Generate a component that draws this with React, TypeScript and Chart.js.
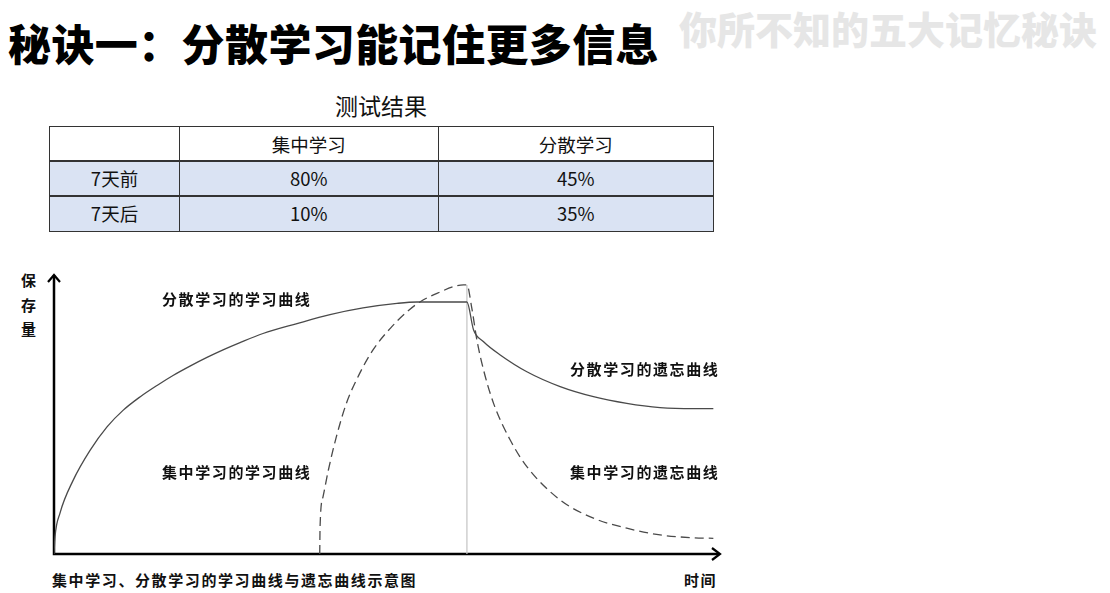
import React, { useEffect, useRef } from "react";
import { Chart, registerables } from "chart.js";

Chart.register(...registerables);

// ---- data ----
const tableHeaders = ["", "集中学习", "分散学习"];
const rowLabels = ["7天前", "7天后"];
const massedValues = ["80%", "10%"];
const spacedValues = ["45%", "35%"];

// 分散学习 (solid): learning curve then forgetting curve
const spacedX = [0, 0.15, 0.9, 2.85, 5.41, 7.96, 10.36, 12.91, 15.47, 17.87, 20.42, 22.97, 25.38, 27.93, 31.38, 36.49, 41.44, 46.4, 51.5, 54.5, 62.0, 63.0, 64.5, 67.0, 71.0, 76.0, 81.0, 86.0, 91.0, 96.0, 99.0];
const spacedY = [0, 6.1, 14.6, 26.2, 37.0, 45.4, 51.3, 56.1, 60.2, 63.75, 67.1, 70.2, 72.9, 75.5, 78.75, 82.3, 85.5, 87.9, 89.5, 90.0, 90.0, 80.0, 75.8, 71.1, 65.1, 59.8, 56.2, 53.8, 52.3, 51.9, 51.9];

// 集中学习 (dashed)
const massedX = [39.9, 39.95, 40.4, 41.2, 42.4, 43.9, 45.9, 47.9, 50.5, 53.0, 55.0, 57.5, 61.5, 62.0, 62.7, 63.5, 64.5, 66.0, 68.5, 71.0, 76.0, 81.0, 86.0, 91.0, 96.0, 99.0];
const massedY = [0, 9.8, 20.5, 30.0, 41.9, 53.8, 64.5, 72.9, 80.6, 86.5, 90.1, 93.1, 96.1, 96.1, 88.3, 76.4, 65.7, 53.8, 40.7, 31.2, 19.3, 12.8, 9.2, 6.8, 5.8, 5.6];

// end of study (vertical divider)
const dividerX = [62.0, 62.0];
const dividerY = [0, 96.1];

const curveLabels = ["分散学习的学习曲线", "集中学习的学习曲线", "分散学习的遗忘曲线", "集中学习的遗忘曲线"];
const yAxisLabel = ["保", "存", "量"];
const xAxisLabel = "时间";
const caption = "集中学习、分散学习的学习曲线与遗忘曲线示意图";
const title = "秘诀一：分散学习能记住更多信息";
const watermark = "你所不知的五大记忆秘诀";
const tableTitle = "测试结果";

const toPoints = (xs: number[], ys: number[]) => xs.map((x, i) => ({ x, y: ys[i] }));

const axesPlugin = {
  id: "arrowAxes",
  beforeDatasetsDraw(chart: any) {
    const { ctx, chartArea } = chart;
    const { left, right, top, bottom } = chartArea;
    ctx.save();
    ctx.strokeStyle = "#000";
    ctx.lineWidth = 2.5;
    ctx.lineCap = "butt";
    ctx.beginPath();
    ctx.moveTo(left, bottom);
    ctx.lineTo(right - 1, bottom);
    ctx.moveTo(left, bottom + 1.25);
    ctx.lineTo(left, top + 1);
    ctx.stroke();
    ctx.lineWidth = 2.2;
    ctx.lineJoin = "miter";
    ctx.beginPath();
    ctx.moveTo(left - 6, top + 8);
    ctx.lineTo(left, top + 1);
    ctx.lineTo(left + 6, top + 8);
    ctx.moveTo(right - 8, bottom - 6);
    ctx.lineTo(right, bottom);
    ctx.lineTo(right - 8, bottom + 6);
    ctx.stroke();
    ctx.restore();
  },
};

const FONT = '"Noto Sans CJK SC", "Noto Sans", sans-serif';

function CurveChart() {
  const ref = useRef<HTMLCanvasElement | null>(null);
  useEffect(() => {
    if (!ref.current) return;
    const chart = new Chart(ref.current, {
      type: "line",
      data: {
        datasets: [
          {
            data: toPoints(spacedX, spacedY),
            borderColor: "#4a4a4a",
            borderWidth: 1.3,
            pointRadius: 0,
            fill: false,
            cubicInterpolationMode: "monotone",
          },
          {
            data: toPoints(massedX, massedY),
            borderColor: "#4a4a4a",
            borderWidth: 1.3,
            borderDash: [9, 5],
            pointRadius: 0,
            fill: false,
            cubicInterpolationMode: "monotone",
          },
          {
            data: toPoints(dividerX, dividerY),
            borderColor: "#c4c4c4",
            borderWidth: 1.2,
            pointRadius: 0,
            fill: false,
            tension: 0,
          },
        ],
      },
      options: {
        animation: false,
        responsive: false,
        maintainAspectRatio: false,
        layout: { padding: { left: 14, right: 20, top: 12, bottom: 8 } },
        plugins: { legend: { display: false }, tooltip: { enabled: false } },
        scales: {
          x: {
            type: "linear",
            min: 0,
            max: 100,
            grid: { display: false },
            ticks: { display: false },
            border: { display: false },
            afterFit: (s: any) => {
              s.height = 0;
            },
          },
          y: {
            type: "linear",
            min: 0,
            max: 100,
            grid: { display: false },
            ticks: { display: false },
            border: { display: false },
            afterFit: (s: any) => {
              s.width = 0;
            },
          },
        },
      } as any,
      plugins: [axesPlugin],
    });
    return () => chart.destroy();
  }, []);
  return (
    <div style={{ position: "absolute", left: 40, top: 262, width: 700, height: 300 }}>
      <canvas ref={ref} width={700} height={300} style={{ width: 700, height: 300, display: "block" }} />
    </div>
  );
}

const labelStyle = (left: number, cy: number): React.CSSProperties => ({
  position: "absolute",
  left,
  top: cy - 9,
  fontFamily: FONT,
  fontWeight: 700,
  fontSize: 15,
  lineHeight: "18px",
  letterSpacing: 1.6,
  color: "#111",
  whiteSpace: "nowrap",
});

export default function App() {
  const colLefts = [49, 180, 439];
  const colWidths = [131, 259, 275];
  const rowTops = [126, 161, 196];
  const rowH = 35.5;
  return (
    <div style={{ position: "fixed", left: 0, top: 0, width: 1110, height: 593, background: "#fff", overflow: "hidden" }}>
      <div
        style={{
          position: "absolute",
          left: 8,
          top: 16,
          fontFamily: FONT,
          fontWeight: 900,
          fontSize: 43,
          lineHeight: "52px",
          color: "#000",
          whiteSpace: "nowrap",
          letterSpacing: 0.4,
        }}
      >
        {title}
      </div>
      <div
        style={{
          position: "absolute",
          left: 679,
          top: 6,
          fontFamily: FONT,
          fontWeight: 900,
          fontSize: 38,
          lineHeight: "44px",
          color: "#e6e6e6",
          whiteSpace: "nowrap",
        }}
      >
        {watermark}
      </div>
      <div
        style={{
          position: "absolute",
          left: 281,
          width: 200,
          top: 91,
          textAlign: "center",
          fontFamily: FONT,
          fontSize: 23,
          lineHeight: "28px",
          color: "#111",
        }}
      >
        {tableTitle}
      </div>
      {/* table */}
      <div style={{ position: "absolute", left: 0, top: 0 }}>
        {[0, 1, 2].map((r) => (
          <div
            key={"bg" + r}
            style={{
              position: "absolute",
              left: 49,
              top: rowTops[r],
              width: 665,
              height: rowH,
              background: r === 0 ? "#fff" : "#dae3f3",
            }}
          />
        ))}
        {[0, 1, 2].map((r) =>
          [0, 1, 2].map((c) => {
            const text =
              r === 0 ? tableHeaders[c] : c === 0 ? rowLabels[r - 1] : c === 1 ? massedValues[r - 1] : spacedValues[r - 1];
            return (
              <div
                key={r + "-" + c}
                style={{
                  position: "absolute",
                  left: colLefts[c],
                  top: rowTops[r],
                  width: colWidths[c] + (c === 0 ? 0 : 1.5),
                  height: rowH + (r === 0 ? 0 : 1.5),
                  boxSizing: "border-box",
                  border: "1.5px solid #333",
                  marginLeft: c === 0 ? 0 : -1.5,
                  marginTop: r === 0 ? 0 : -1.5,
                  display: "flex",
                  alignItems: "center",
                  justifyContent: "center",
                  fontFamily: FONT,
                  fontSize: 18.5,
                  color: "#111",
                }}
              >
                {text}
              </div>
            );
          })
        )}
      </div>
      <CurveChart />
      {yAxisLabel.map((ch, i) => (
        <div key={ch} style={{ ...labelStyle(21, 280 + i * 24.5), letterSpacing: 0 }}>
          {ch}
        </div>
      ))}
      <div style={labelStyle(162, 299)}>{curveLabels[0]}</div>
      <div style={labelStyle(162, 472)}>{curveLabels[1]}</div>
      <div style={labelStyle(570, 369)}>{curveLabels[2]}</div>
      <div style={labelStyle(570, 472)}>{curveLabels[3]}</div>
      <div style={labelStyle(52, 580)}>{caption}</div>
      <div style={labelStyle(684, 580)}>{xAxisLabel}</div>
    </div>
  );
}
